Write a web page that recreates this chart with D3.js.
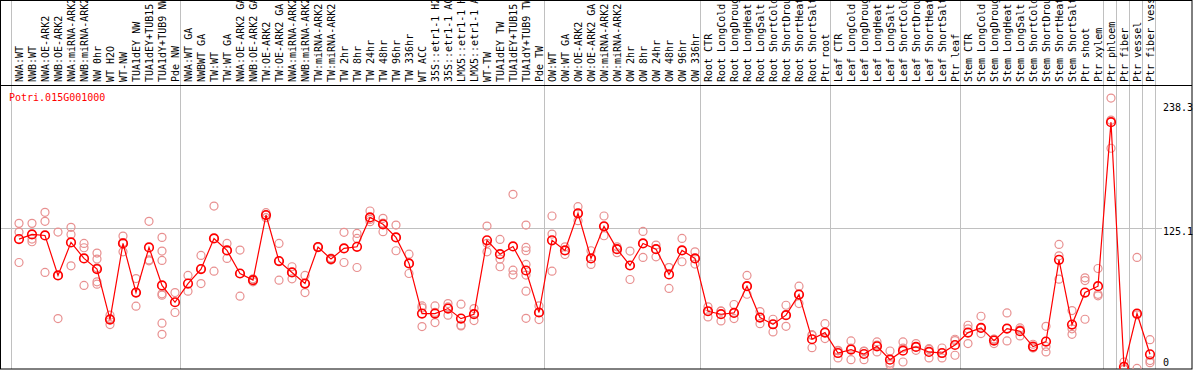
<!DOCTYPE html>
<html>
<head>
<meta charset="utf-8">
<script src="https://cdn.jsdelivr.net/npm/d3@7"></script>
<style>
  body { margin: 0; background: #fff; }
  svg text { font-family: "DejaVu Sans Mono", monospace; font-size: 10px; }
</style>
</head>
<body>
<svg class="chart" width="1194" height="370"></svg>
<script>
/*global d3*/
var geneName = "Potri.015G001000";

var samples = [
    "NWA:WT", "NWB:WT", "NWA:OE-ARK2", "NWB:OE-ARK2", "NWA:miRNA-ARK2", "NWB:miRNA-ARK2",
    "NW 0hr", "WT H2O", "WT-NW", "TUA1dEY NW", "TUA1dEY+TUB15 NW", "TUA1dY+TUB9 NW", "Pde NW",
    "NWA:WT GA", "NWBWT GA", "TW:WT", "TW:WT GA", "NWA:OE-ARK2 GA", "NWB:OE-ARK2 GA",
    "TW:OE-ARK2", "TW:OE-ARK2 GA", "NWA:miRNA-ARK2", "NWB:miRNA-ARK2", "TW:miRNA-ARK2",
    "TW:miRNA-ARK2", "TW 2hr", "TW 8hr", "TW 24hr", "TW 48hr", "TW 96hr", "TW 336hr",
    "WT ACC", "35S::etr1-1 H2O", "35S::etr1-1 ACC", "LMX5::etr1-1 H2O", "LMX5::etr1-1 ACC",
    "WT-TW", "TUA1dEY TW", "TUA1dEY+TUB15 TW", "TUA1dY+TUB9 TW", "Pde TW",
    "OW:WT", "OW:WT GA", "OW:OE-ARK2", "OW:OE-ARK2 GA", "OW:miRNA-ARK2", "OW:miRNA-ARK2",
    "OW 2hr", "OW 8hr", "OW 24hr", "OW 48hr", "OW 96hr", "OW 336hr",
    "Root CTR", "Root LongCold", "Root LongDrought", "Root LongHeat", "Root LongSalt",
    "Root ShortCold", "Root ShortDrought", "Root ShortHeat", "Root ShortSalt", "Ptr root",
    "Leaf CTR", "Leaf LongCold", "Leaf LongDrought", "Leaf LongHeat", "Leaf LongSalt",
    "Leaf ShortCold", "Leaf ShortDrought", "Leaf ShortHeat", "Leaf ShortSalt", "Ptr leaf",
    "Stem CTR", "Stem LongCold", "Stem LongDrought", "Stem LongHeat", "Stem LongSalt",
    "Stem ShortCold", "Stem ShortDrought", "Stem ShortHeat", "Stem ShortSalt", "Ptr shoot",
    "Ptr xylem", "Ptr phloem", "Ptr fiber", "Ptr vessel", "Ptr fiber vessel"
];

// number of samples before each grey separator
var groupBreaks = [0, 13, 41, 53, 63, 73, 84, 85, 86, 87, 88];

var means = [
    115.0, 119.4, 118.4, 81.0, 111.9, 96.9, 86.9, 39.7, 110.9, 65.0, 107.2, 71.6, 55.9,
    73.4, 86.9, 115.6, 104.4, 82.8, 76.6, 137.5, 94.4, 83.8, 73.4, 107.5, 96.3, 106.3,
    107.8, 135.3, 128.8, 116.6, 92.2, 45.3, 45.3, 50.0, 40.6, 44.7, 113.8, 100.9, 108.1,
    85.6, 46.3, 113.8, 104.4, 139.1, 96.9, 126.9, 105.6, 90.3, 110.9, 105.6, 81.9, 104.4,
    96.9, 47.5, 44.7, 45.9, 70.9, 41.6, 35.3, 43.8, 63.1, 21.3, 27.5, 8.4, 11.6, 7.5,
    14.7, 2.2, 10.6, 14.1, 9.4, 8.4, 15.9, 27.5, 31.9, 20.0, 31.3, 28.8, 14.4, 19.1,
    95.6, 35.0, 65.0, 70.9, 224.4, -4.5, 45.3, 7.2
];

var replicates = [
    [129.7, 121.6, 93.1], [129.7, 115, 112.5], [140, 131.6, 83.8], [121.6, 81, 40.6],
    [126, 119.4, 90], [110.9, 106.9, 71.6], [101.9, 96.3, 88.1, 75, 72.8], [43.8, 40.6, 35],
    [117.8, 111.8, 103.1], [78.1, 65, 52.2], [131.6, 95.5, 94.7],
    [116.6, 103.8, 95, 63.8, 62.5, 36.3, 25.9], [65, 46.3],
    [81, 66.3], [99.7, 87, 73.4], [145.9, 115.6, 85], [110.9, 104.4, 96.9],
    [104.7, 82.8, 61.6], [77.8, 75, 76.6], [139.7, 137.5, 135], [110.9, 94.4, 76.6],
    [89.1, 83.8, 77.8], [81, 73.4, 65], [107.5, 107.2, 107.8], [97.2, 96.3, 95.4],
    [121.3, 106.3, 93.1], [120.3, 115.6, 88.4], [141.3, 133.4, 131.3], [134.4, 130, 121.9],
    [128.1, 116.6, 104.1], [100.9, 92.2, 82.8], [52.5, 50.6, 33.1], [52.5, 46.5, 36.9],
    [54.7, 51.5, 43.8], [54.1, 34.5, 33.8], [50, 45.3, 38.8], [127.2, 111, 103.1],
    [114.7, 96.3, 89.1], [156.9, 85.9, 81.6], [128.1, 107.2, 104.1, 91.3, 81.3, 66.3, 40.9],
    [52.5, 46.3, 39.7], [136.6, 119.7, 85], [107.8, 104.4, 100.6], [145.3, 139.1, 132.2],
    [104.1, 96.9, 91.3], [136.6, 126.9, 118.1], [107.8, 105.6, 102.2], [103.8, 90.3, 77.2],
    [122.2, 110.9, 97.8], [109.4, 105.6, 98.4], [88.4, 88.4, 68.8], [115.6, 104.4, 93.8],
    [103.1, 96.9, 91.6], [51.6, 47.5, 42.2], [47.8, 47.5, 38.4], [53.8, 45.9, 40.6],
    [81, 70.9, 63.4], [47.2, 41.6, 35.9], [40, 35.3, 28.1], [53.1, 43.8, 33.4],
    [70.9, 63.1, 54.7], [25.6, 24.8, 13.4], [35.9, 27.5, 21.9], [10.9, 10.5, 3.8],
    [19.7, 12.9, 2.2], [10.3, 10, 2.2], [18.8, 15.9, 9.4], [10.3, -1, -2.5],
    [18.8, 13, 0], [17.2, 14.1, 10.9], [12.5, 11.9, 3.8], [13.1, 8.4, 3.8],
    [21.3, 20, 6.3], [34.4, 31, 17.2], [42.8, 31.9, 26.6], [21.3, 21.5, 17.2],
    [45.9, 31.3, 19.7], [31.9, 30.1, 24.4], [16.6, 13.5, 13.1], [33.4, 14.5, 9.4],
    [110, 99.3, 77.5], [48.1, 31, 25.9], [78.8, 76.2, 40], [87.5, 63.3, 61.9],
    [246.9, 226.3, 200], [0, -6.7, -6.7], [97.8, 44.1, -6], [20.9, 1.3, -0.6]
];

var yTicks = [0, 125.1, 238.3];

var svg = d3.select(".chart");
var width = +svg.attr("width");
var height = +svg.attr("height");
var headerH = 85;
var plotRight = 1192;
var plotBottom = 369;

var idx = d3.range(samples.length);
var xScale = d3.scaleBand().domain(idx).range([12.5, 12.5 + 13 * samples.length]);
var yScale = d3.scaleLinear().domain([0, 238.3]).range([362, 107.3]);

function cx(i) { return xScale(i) + xScale.bandwidth() / 2; }

svg.append("defs").append("clipPath").attr("id", "plotclip")
    .append("rect")
    .attr("x", 1).attr("y", headerH)
    .attr("width", plotRight - 1).attr("height", plotBottom - headerH);

// grey separators between sample groups
svg.append("g")
    .selectAll("line")
    .data(groupBreaks)
    .enter().append("line")
    .attr("x1", function (d) { return Math.floor(xScale.step() * d + xScale.range()[0] - 1.5) + 0.5; })
    .attr("x2", function (d) { return Math.floor(xScale.step() * d + xScale.range()[0] - 1.5) + 0.5; })
    .attr("y1", 0)
    .attr("y2", plotBottom)
    .attr("stroke", "#c0c0c0")
    .attr("stroke-width", 1);

// middle horizontal grid line
svg.append("line")
    .attr("x1", 1)
    .attr("x2", 1162)
    .attr("y1", Math.round(yScale(yTicks[1])) + 0.5)
    .attr("y2", Math.round(yScale(yTicks[1])) + 0.5)
    .attr("stroke", "#c0c0c0");

// sample labels
svg.append("g")
    .selectAll("text")
    .data(samples)
    .enter().append("text")
    .attr("transform", function (d, i) { return "translate(" + cx(i) + "," + (headerH - 3) + ") rotate(-90)"; })
    .attr("dy", "0.35em")
    .attr("fill", "#000")
    .text(function (d) { return d; });

// borders
svg.append("rect")
    .attr("x", 0.5).attr("y", 0.5)
    .attr("width", plotRight - 0.5).attr("height", plotBottom - 0.5)
    .attr("fill", "none").attr("stroke", "#000");
svg.append("line")
    .attr("x1", 0).attr("x2", plotRight)
    .attr("y1", headerH + 0.5).attr("y2", headerH + 0.5)
    .attr("stroke", "#000");

// y tick labels on the right
svg.append("g")
    .selectAll("text")
    .data(yTicks)
    .enter().append("text")
    .attr("x", 1163)
    .attr("y", function (d) { return yScale(d); })
    .attr("dy", function (d, i) { return i === 1 ? "0.72em" : "0.35em"; })
    .attr("fill", "#000")
    .text(function (d) { return d; });

svg.append("text")
    .attr("x", 9)
    .attr("y", 101)
    .attr("fill", "#ff0000")
    .text(geneName);

var plot = svg.append("g").attr("clip-path", "url(#plotclip)");

var repPoints = [];
replicates.forEach(function (reps, i) {
    reps.forEach(function (v) { repPoints.push({i: i, v: v}); });
});

plot.append("g")
    .selectAll("circle")
    .data(repPoints)
    .enter().append("circle")
    .attr("cx", function (d) { return cx(d.i); })
    .attr("cy", function (d) { return yScale(d.v); })
    .attr("r", 4)
    .attr("fill", "none")
    .attr("stroke", "#e89090")
    .attr("stroke-width", 1.2);

var line = d3.line()
    .x(function (d, i) { return cx(i); })
    .y(function (d) { return yScale(d); });

plot.append("path")
    .datum(means)
    .attr("d", line)
    .attr("fill", "none")
    .attr("stroke", "#ff0000")
    .attr("stroke-width", 1.2);

plot.append("g")
    .selectAll("circle")
    .data(means)
    .enter().append("circle")
    .attr("cx", function (d, i) { return cx(i); })
    .attr("cy", function (d) { return yScale(d); })
    .attr("r", 4.3)
    .attr("fill", "none")
    .attr("stroke", "#ff0000")
    .attr("stroke-width", 1.6);
</script>
</body>
</html>
